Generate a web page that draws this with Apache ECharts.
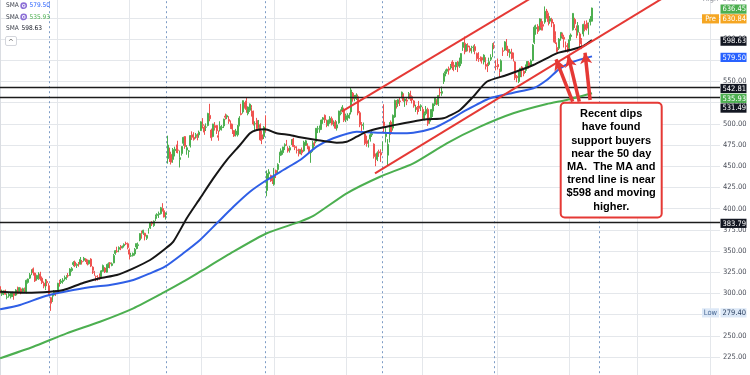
<!DOCTYPE html>
<html><head><meta charset="utf-8">
<script src="https://cdn.jsdelivr.net/npm/echarts@6.0.0/dist/echarts.min.js"></script>
<style>html,body{margin:0;padding:0;background:#fff}#c{width:750px;height:375px}</style>
</head><body><div id="c"></div><script>
// ---- DATA ----
// daily candles [open, close, low, high], one per trading day from 2023-09-15
const candles = [
[308.0,300.3,298.9,308.8],[299.0,302.6,297.0,304.5],[301.0,302.5,298.0,303.5],[303.0,299.1,298.5,304.5],[295.5,295.7,293.0,299.9],[297.0,299.1,295.0,301.2],[296.0,300.8,294.0,301.5],[298.5,299.0,295.8,302.0],[300.0,297.7,292.5,301.0],[298.0,304.0,297.0,305.0],[306.5,300.2,299.0,308.0],
[302.7,306.8,301.5,307.6],[305.3,300.9,299.0,307.0],[302.3,305.6,301.0,306.7],[305.9,304.8,301.5,306.9],[301.0,315.4,300.0,316.3],[313.0,317.0,311.5,317.5],[318.0,321.8,317.0,324.0],[324.0,327.7,321.5,328.5],[329.0,324.2,321.0,330.5],[324.0,314.7,313.5,324.5],[317.0,321.2,315.0,322.0],[318.0,324.0,316.0,325.0],[323.0,317.0,315.0,325.5],[318.0,312.8,311.0,320.0],[312.0,308.6,306.0,314.0],[306.0,314.0,304.0,317.0],[314.0,312.6,308.5,316.5],[309.0,299.5,298.0,312.0],[295.0,288.4,279.4,296.0],[292.0,296.7,290.0,299.5],[298.0,302.7,296.5,304.0],[302.5,301.3,297.0,303.5],
[301.8,311.9,301.0,312.5],[314.0,310.9,308.0,316.0],[313.0,314.6,311.0,317.0],[314.0,315.8,311.5,318.0],[317.0,318.8,315.0,321.0],[318.0,319.8,316.0,321.5],[321.0,320.6,318.5,324.0],[321.0,328.8,320.5,329.8],[327.0,329.2,325.5,331.0],[334.0,336.3,332.0,338.0],[337.0,332.7,331.0,338.7],[333.0,334.2,330.0,335.5],[335.5,335.0,331.5,337.0],[334.5,340.0,334.0,342.9],[337.5,337.0,334.0,339.5],[339.0,341.5,337.5,343.0],[340.5,338.2,337.0,341.5],[338.0,334.7,333.0,340.0],[335.0,339.0,334.0,339.5],[340.5,332.2,331.0,341.5],[331.0,327.2,323.0,332.0],
[325.5,324.8,320.8,326.5],[320.0,320.0,314.5,321.0],[318.5,318.3,315.0,321.5],[321.0,317.5,316.0,323.5],[320.0,326.6,319.5,327.5],[326.0,332.8,325.5,334.0],[330.0,325.3,324.0,331.0],[325.0,334.2,324.5,334.5],[334.5,334.8,330.0,336.5],[336.0,334.9,329.5,337.0],[333.0,334.9,332.0,336.5],[336.0,344.6,335.5,346.5],[347.0,350.4,345.5,351.0],[350.0,349.3,348.0,355.0],[352.0,354.1,348.5,355.5],[355.5,353.4,351.0,357.0],[354.0,354.8,353.0,356.5],[356.0,357.8,354.0,359.0],[359.0,358.3,357.0,361.0],[358.5,354.0,352.0,360.0],
[351.3,346.3,340.0,353.0],[344.0,344.5,343.0,347.9],[344.5,347.1,343.5,348.2],[346.5,352.0,344.5,353.5],[354.7,358.7,352.0,358.9],[356.4,357.4,352.5,360.0],[363.0,370.5,361.5,371.0],[372.0,369.7,364.5,374.0],[371.0,374.5,369.0,375.0],[371.0,367.5,362.5,371.5],[365.0,368.4,363.0,369.0],[373.0,376.1,370.5,377.0],[377.0,383.5,376.0,384.3],[384.0,381.8,379.5,385.2],[380.0,385.2,378.5,386.0],[387.0,390.7,385.5,393.0],[392.0,393.2,388.0,394.5],[393.0,394.1,389.0,396.5],[394.0,401.0,393.0,402.0],[401.0,400.1,396.5,406.4],[397.5,390.1,389.5,400.5],
[393.0,394.8,387.0,395.5],[459.0,475.0,453.0,486.0],[469.0,459.4,455.0,471.9],[464.0,454.7,452.0,467.1],[458.0,469.6,454.0,471.5],[468.3,470.0,461.5,473.0],[472.0,468.1,465.6,475.5],[469.0,468.9,465.0,480.0],[458.0,460.1,448.5,468.5],[465.0,473.3,462.5,473.5],[477.0,484.0,474.0,484.7],[485.0,473.3,470.5,485.6],[469.0,471.8,463.5,474.8],[467.5,468.0,460.0,469.0],[474.0,486.1,472.0,486.8],[487.0,484.0,481.0,491.1],[484.0,481.7,480.2,490.0],[486.0,487.1,482.5,489.2],[485.0,484.0,480.5,488.6],[487.0,490.1,483.5,492.0],
[492.0,502.3,491.5,503.0],[499.0,498.2,494.5,506.7],[496.0,490.2,487.0,498.0],[496.0,496.1,491.5,500.5],[498.0,512.2,497.0,513.0],[509.9,506.0,503.0,523.6],[492.6,483.6,480.0,494.4],[485.0,499.8,484.0,500.0],[497.8,495.6,492.0,502.0],[498.0,491.8,488.0,498.5],[486.0,484.1,480.0,492.0],[493.0,497.0,491.0,503.0],[495.5,496.2,492.0,498.5],[497.5,505.5,495.0,506.0],[509.0,507.8,505.0,512.0],[508.0,509.6,505.5,511.0],[505.0,503.0,500.0,509.0],[500.0,495.9,494.0,504.0],[499.0,493.9,488.0,500.0],[492.0,485.6,484.5,492.5],
[487.0,491.4,485.0,494.0],[487.0,497.4,485.0,498.5],[498.0,506.7,497.0,509.0],[512.0,510.9,510.0,523.6],[514.0,527.3,512.0,527.5],[523.0,519.3,518.0,525.5],[527.0,516.9,513.0,531.5],[512.0,519.8,510.0,520.5],[516.0,523.2,514.0,524.0],[519.0,511.9,508.5,522.0],[515.0,499.8,498.0,515.5],[500.0,500.2,492.5,503.0],[504.0,494.2,492.0,507.0],[496.0,501.8,494.0,504.5],[499.0,481.1,480.0,500.5],[487.0,481.7,476.0,492.0],[485.0,496.1,482.0,497.5],[508.0,493.5,490.0,510.0],[421.4,441.4,414.5,445.0],[441.0,443.3,434.5,446.5],[439.0,432.6,431.5,440.0],[432.0,430.2,429.0,438.0],
[428.6,439.2,427.0,448.0],[445.0,441.7,436.0,446.0],[446.0,452.0,441.0,453.5],[463.0,465.7,454.0,467.0],[463.0,468.2,462.0,471.0],[466.0,472.6,463.5,473.0],[474.0,475.4,469.0,477.0],[478.0,476.2,474.0,481.0],[471.0,468.0,466.0,473.5],[469.0,471.9,466.0,474.0],[476.0,481.5,475.0,481.7],[482.0,473.2,472.5,483.5],[473.0,471.9,469.0,475.0],[469.0,468.8,465.0,473.5],[470.0,464.6,461.5,470.5],[466.0,467.8,464.0,470.0],[469.0,465.8,463.0,472.0],[468.0,478.2,467.0,480.0],[475.0,479.9,474.0,481.0],[475.0,474.4,470.0,477.0],[473.0,467.1,465.0,474.0],[466.0,466.8,454.0,468.0],
[471.0,477.5,467.0,480.0],[477.0,476.2,473.5,479.5],[479.0,494.7,477.0,495.0],[494.0,494.1,489.0,497.5],[493.0,494.3,489.5,498.0],[494.0,504.4,493.0,505.0],[505.0,507.0,500.0,508.0],[510.0,504.6,501.0,511.0],[502.0,498.9,496.0,505.0],[498.0,504.2,497.0,505.0],[501.0,506.6,500.0,509.0],[506.0,499.5,498.0,508.5],[499.0,501.7,497.0,504.0],[502.0,494.8,494.0,504.5],[495.0,498.7,492.0,503.0],[501.0,515.0,500.0,515.5],[512.0,513.1,510.0,517.0],[515.0,519.6,514.0,522.0],[516.0,504.2,502.0,519.0],
[505.0,509.5,502.0,512.0],[507.0,510.0,503.5,512.5],[509.0,510.0,506.0,513.0],[514.0,539.9,511.0,542.8],[536.0,529.3,526.0,537.5],[530.0,531.2,526.5,534.0],[530.0,533.8,528.0,536.0],[532.0,512.7,510.0,534.5],[513.0,498.9,496.0,515.0],[500.0,496.2,491.0,502.0],[498.0,499.0,493.0,501.5],[488.0,476.8,475.0,489.5],[480.0,476.8,473.0,486.0],[476.0,476.8,472.0,481.5],[482.0,487.0,479.0,489.0],[487.0,488.4,484.5,492.0],[476.0,461.3,459.0,477.0],[461.0,453.4,450.0,465.0],[458.0,465.7,456.0,467.5],[467.0,465.7,461.0,469.5],[466.0,463.2,455.0,470.0],[473.0,474.8,468.0,479.0],
[502.0,497.7,489.0,523.0],[485.0,488.1,478.0,495.0],[463.0,475.7,450.8,482.0],[480.0,494.1,478.0,502.0],[502.0,488.9,487.0,504.0],[495.0,510.0,492.0,511.0],[508.0,527.4,507.0,528.5],[526.0,521.7,518.0,528.0],[524.0,528.3,520.0,529.0],[527.0,526.1,521.0,530.5],[533.0,537.3,530.0,538.0],[534.0,527.4,526.0,536.0],[527.0,529.3,520.0,530.0],[528.0,526.7,522.0,530.5],[530.0,535.5,529.0,537.5],[535.0,529.3,527.0,539.0],[532.0,528.0,524.0,533.5],[527.0,521.1,519.0,528.0],[519.0,519.1,514.0,522.5],[519.0,516.8,511.0,521.0],[521.0,518.2,514.0,527.0],[520.0,521.3,515.0,523.0],
[517.0,509.9,505.0,520.0],[506.0,512.2,504.0,514.5],[512.0,517.0,510.0,521.0],[517.0,500.3,497.5,519.0],[503.0,504.8,500.0,507.5],[507.0,516.9,506.0,517.5],[515.0,523.6,508.0,524.0],[523.0,530.6,521.0,531.5],[527.0,524.6,522.0,529.0],[523.0,533.3,521.0,534.0],[537.0,536.3,532.0,542.0],[536.0,538.0,533.0,544.0],[550.0,559.1,547.0,560.0],[560.0,561.4,556.0,564.0],[562.0,564.4,559.0,565.0],[565.0,563.3,558.0,567.5],[566.0,568.3,564.0,570.5],[573.0,567.8,563.5,575.0],[569.0,567.4,562.0,573.0],[567.0,572.4,563.5,573.0],
[573.0,568.6,561.0,574.0],[568.0,572.8,566.0,578.0],[571.0,582.8,568.0,583.5],[590.0,595.9,586.0,596.0],[595.0,584.8,582.0,603.0],[587.0,592.9,585.0,594.0],[592.0,590.5,585.5,595.0],[589.0,586.1,584.0,592.0],[584.0,590.0,583.0,592.0],[590.0,590.4,585.0,592.5],[591.0,586.3,582.0,594.0],[583.0,576.8,574.0,584.0],[580.0,576.9,573.0,584.5],[577.0,576.5,573.5,579.5],[578.0,575.2,571.0,579.0],[573.0,581.0,570.0,582.0],[578.0,567.8,564.0,578.5],[570.0,567.8,561.0,572.0],[570.0,573.3,568.0,578.0],[576.0,578.2,574.0,582.0],[579.0,593.3,578.5,595.0],[592.0,591.8,588.0,596.0],[568.0,567.6,563.0,575.0],
[570.0,567.2,564.0,577.0],[563.0,560.5,555.0,565.0],[562.0,574.3,561.0,576.0],[586.0,585.5,580.0,590.0],[587.0,596.6,586.0,597.5],[596.0,589.3,586.0,600.0],[588.0,584.2,580.0,592.0],[583.0,584.8,578.0,588.0],[584.0,580.0,576.0,588.5],[580.0,577.2,573.5,584.0],[573.0,554.1,551.5,574.0],[556.0,554.4,549.0,557.5],[550.0,561.1,548.0,562.0],[562.0,565.5,555.0,566.0],[567.0,563.1,555.0,568.0],[562.0,559.1,556.0,563.5],[563.0,565.1,560.0,570.0],[566.0,573.5,565.0,574.0],[572.0,569.0,565.0,574.0],[569.0,574.3,568.0,576.0],
[575.0,592.8,574.0,594.0],[596.0,613.9,594.0,616.0],[612.0,613.6,605.0,617.0],[615.0,608.9,606.0,617.5],[611.0,623.8,610.0,624.5],[620.0,613.6,610.0,624.0],[617.0,615.1,610.0,621.0],[620.0,632.7,618.0,638.4],[633.0,630.8,624.0,635.5],[630.0,620.4,616.0,631.0],[621.0,624.2,618.0,627.0],[623.0,618.8,614.0,625.0],[617.0,597.2,596.0,620.0],[604.0,595.6,594.0,609.0],[590.0,585.3,584.0,596.0],[589.0,599.9,587.0,601.0],[601.0,607.8,598.0,608.0],[606.0,603.4,600.0,607.5],[602.0,599.8,590.0,605.0],[592.0,591.2,584.5,597.0],[594.0,585.5,584.0,595.0],
[590.0,599.2,586.0,604.5],[603.0,604.6,598.0,606.5],[611.0,630.2,610.0,630.5],[623.0,617.9,613.0,625.0],[612.0,610.7,601.0,616.0],[608.0,615.9,604.0,620.0],[606.0,594.3,589.5,608.0],[598.0,594.0,588.0,601.0],[606.0,617.1,603.0,618.0],[617.0,611.3,609.0,621.5],[619.0,612.8,610.0,622.0],[612.0,617.1,605.0,619.5],[620.0,623.5,616.0,627.0],[621.0,636.45,620.5,637.0]
];
// moving averages: [trading-day index, value]
const sma50 = [[0,302.0],[15.2,300.8],[28.6,302.0],[36.2,304.0],[47.8,312.6],[57.2,317.8],[66.8,321.7],[76.3,329.6],[85.9,339.4],[94.4,352.4],[99.2,361.0],[106.9,388.6],[114.5,412.1],[122.1,435.7],[129.8,457.3],[137.4,475.0],[143.1,488.8],[147.0,492.7],[151.7,493.5],[158.4,488.8],[166.0,486.8],[171.8,484.1],[181.3,480.9],[192.8,477.7],[198.5,478.9],[204.2,484.8],[210.0,490.7],[217.6,495.0],[229.0,499.8],[244.3,505.3],[253.8,506.5],[263.4,516.3],[271.0,532.0],[278.7,549.6],[290.2,557.5],[305.4,569.3],[318.8,583.1],[326.4,587.0],[334.0,591.7],[339,598.63]];
const sma100 = [[0,281.2],[11.4,286.3],[24.7,296.1],[32.4,300.1],[41.9,304.0],[53.4,307.9],[62.9,309.9],[76.3,315.8],[85.9,323.7],[94.4,331.5],[104.9,347.3],[114.5,363.0],[124.1,382.7],[133.6,402.2],[143.1,419.9],[152.7,433.7],[162.2,445.5],[171.8,457.3],[181.3,473.0],[190.8,482.9],[204.2,490.7],[217.6,489.5],[227.1,488.8],[236.7,489.5],[248.1,494.7],[255.8,502.5],[267.2,516.3],[280.6,530.1],[294.0,536.7],[305.4,541.9],[313.1,551.7],[320.7,565.4],[328.3,573.2],[339,579.50]];
const sma200 = [[0,223.5],[19.0,237.1],[38.1,252.9],[57.2,266.6],[76.3,282.4],[93.5,300.8],[104.9,313.8],[114.5,325.6],[133.6,349.2],[152.7,370.9],[171.8,384.6],[179.4,391.3],[198.5,418.0],[217.6,437.6],[236.7,453.4],[255.8,477.0],[274.9,496.6],[293.9,512.4],[313.1,523.3],[324.5,528.1],[339,535.93]];
const levelLines = [542.81, 531.49, 383.79];
const monthGridIdx = [33, 74, 115, 157, 198, 242, 285, 326, 365, 407];
const earningsIdx = [28, 95, 152, 219, 283, 343];
const upperTrend = [[195.6, 514.3], [305.5, 650]];
const lowerTrend = [[214.7, 441.6], [381.0, 650]];
const dipArrows = [
  [[327.9, 526.1], [318.4, 576.1]],
  [[331.7, 526.1], [325.4, 580.0]],
  [[337.9, 528.1], [335.0, 583.8]]
];
const priceTags = [
  {text:'638.40', value:638.40, side:'High'},
  {text:'636.45', value:636.45},
  {text:'630.84', value:630.84, side:'Pre'},
  {text:'598.63', value:598.63},
  {text:'579.50', value:579.50},
  {text:'542.81', value:542.81},
  {text:'535.93', value:535.93},
  {text:'531.49', value:531.49},
  {text:'383.79', value:383.79},
  {text:'279.40', value:279.40, side:'Low'}
];
const legendRows = [
  {name:'SMA', value:'579.50', gear:true},
  {name:'SMA', value:'535.93', gear:true},
  {name:'SMA', value:'598.63', gear:false}
];
const noteLines = ['Recent dips','have found','support buyers','near the 50 day','MA.  The MA and','trend line is near','$598 and moving','higher.'];

// ---- STYLE / LAYOUT ----
const C = {up:'#4caf50', down:'#ef5350', ma50:'#161616', ma100:'#2f5fe6', ma200:'#4caf50', red:'#e53935', grid:'#e4e7eb', dash:'#7d9cc6', dark:'#131722'};
const tagStyle = [
  {bg:null, fg:'#8a8d96', sideFg:'#8a8d96', shift:-7.5},
  {bg:'#4caf50', fg:'#fff', shift:1},
  {bg:'#f5a623', fg:'#fff', sideBg:'#f5a623', sideFg:'#fff', shift:6},
  {bg:C.dark, fg:'#fff', shift:1},
  {bg:'#2962ff', fg:'#fff', shift:1},
  {bg:C.dark, fg:'#fff', shift:1},
  {bg:'#4caf50', fg:'#fff', shift:5},
  {bg:C.dark, fg:'#fff', shift:11},
  {bg:C.dark, fg:'#fff', shift:1},
  {bg:'#dce8f7', fg:'#2a3f5f', sideBg:'#dce8f7', sideFg:'#4a6a96', shift:2}
];
const legendColors = ['#2962ff', '#4caf50', '#131722'];
const NARROW = '"Liberation Sans Narrow","DejaVu Sans Condensed","Liberation Sans",sans-serif';

const chart = echarts.init(document.getElementById('c'), null, {renderer:'canvas'});
const option = {
  animation: false,
  backgroundColor: '#ffffff',
  grid: {left: 0, right: 30, top: -3.4, bottom: -3.2, containLabel: false, outerBoundsMode: 'none'},
  xAxis: {type: 'value', min: -0.06, max: 412.3, show: false, splitLine: {show: false}},
  yAxis: {
    type: 'value', position: 'right', min: 200, max: 650, interval: 25, scale: true,
    axisLine: {show: true, lineStyle: {color: '#dadde2'}}, axisTick: {show: false},
    axisLabel: {margin: 3, fontSize: 7.5, color: '#4a4e59', fontFamily: NARROW, showMinLabel: false, showMaxLabel: false, formatter: v => v.toFixed(2)},
    splitLine: {lineStyle: {color: C.grid, width: 1}}
  },
  series: [
    {type: 'line', data: [], silent: true,
     markLine: {silent: true, symbol: 'none', z: 1, animation: false, label: {show: false},
       lineStyle: {color: C.grid, width: 1, type: 'solid'}, data: monthGridIdx.map(i => ({xAxis: i}))}},
    {type: 'line', data: [], silent: true,
     markLine: {silent: true, symbol: 'none', z: 1, animation: false, label: {show: false},
       lineStyle: {color: C.dash, width: 1, type: [2, 3]}, data: earningsIdx.map(i => ({xAxis: i}))}},
    {type: 'candlestick', name: 'price', barWidth: 1.4, z: 2,
     data: candles.map((d, i) => [i, d[0], d[1], d[2], d[3]]),
     itemStyle: {color: C.up, color0: C.down, borderColor: C.up, borderColor0: C.down, borderWidth: 1},
     markLine: {silent: true, symbol: 'none', z: 3, animation: false, label: {show: false},
       lineStyle: {color: '#1c1c1c', width: 1.3, type: 'solid'}, data: levelLines.map(v => ({yAxis: v}))}},
    {type: 'line', name: 'SMA200', data: sma200, showSymbol: false, smooth: 0.2, z: 3, lineStyle: {color: C.ma200, width: 2}},
    {type: 'line', name: 'SMA100', data: sma100, showSymbol: false, smooth: 0.2, z: 3, lineStyle: {color: C.ma100, width: 2}},
    {type: 'line', name: 'SMA50', data: sma50, showSymbol: false, smooth: 0.2, z: 3, lineStyle: {color: C.ma50, width: 2}},
    {type: 'line', data: upperTrend, showSymbol: false, z: 4, lineStyle: {color: C.red, width: 2}},
    {type: 'line', data: lowerTrend, showSymbol: false, z: 4, lineStyle: {color: C.red, width: 2}},
    {type: 'line', data: [], silent: true,
     markLine: {silent: true, symbol: ['none', 'arrow'], symbolSize: [9, 11], z: 6, animation: false, label: {show: false},
       lineStyle: {color: C.red, width: 3.5, type: 'solid', opacity: 1},
       data: dipArrows.map(a => [{coord: a[0]}, {coord: a[1]}])}}
  ]
};
chart.setOption(option);

// ---- overlay: price-scale tags, legend, note ----
const g = [];
priceTags.forEach((t, k) => {
  const st = tagStyle[k];
  const y = chart.convertToPixel({yAxisIndex: 0}, t.value) + st.shift;
  if (st.bg) g.push({type: 'rect', z: 100, shape: {x: 720.5, y: y - 4.6, width: 26, height: 9.2}, style: {fill: st.bg}});
  g.push({type: 'text', z: 101, style: {text: t.text, x: 722.5, y: y + 0.3, fill: st.fg, font: '7.5px ' + NARROW, verticalAlign: 'middle', align: 'left'}});
  if (t.side) {
    if (st.sideBg) g.push({type: 'rect', z: 100, shape: {x: 702, y: y - 4.6, width: 17, height: 9.2}, style: {fill: st.sideBg}});
    g.push({type: 'text', z: 101, style: {text: t.side, x: 710.5, y: y + 0.3, fill: st.sideFg, font: '7.5px ' + NARROW, verticalAlign: 'middle', align: 'center'}});
  }
});
legendRows.forEach((r, k) => {
  const y = 5.7 + k * 11.2;
  g.push({type: 'text', z: 101, style: {text: r.name, x: 6, y: y, fill: '#3b3f4a', font: '6.5px ' + NARROW, verticalAlign: 'middle'}});
  if (r.gear) {
    g.push({type: 'circle', z: 100, shape: {cx: 23.7, cy: y, r: 2.6}, style: {fill: 'none', stroke: '#8c6fd6', lineWidth: 1.6}});
    g.push({type: 'circle', z: 100, shape: {cx: 23.7, cy: y, r: 0.9}, style: {fill: '#8c6fd6'}});
  }
  g.push({type: 'text', z: 101, style: {text: r.value, x: r.gear ? 29.5 : 21.5, y: y, fill: legendColors[k], font: '6.5px ' + NARROW, verticalAlign: 'middle'}});
});
g.push({type: 'rect', z: 100, shape: {x: 5.5, y: 36.5, width: 11, height: 9, r: 1.5}, style: {fill: '#fff', stroke: '#c9ccd3', lineWidth: 0.8}});
g.push({type: 'text', z: 101, style: {text: '^', x: 11, y: 42, fill: '#555', font: '7px "DejaVu Sans"', align: 'center', verticalAlign: 'middle'}});
g.push({type: 'rect', z: 100, shape: {x: 560.7, y: 102.8, width: 101, height: 114.7, r: 4}, style: {fill: '#ffffff', stroke: C.red, lineWidth: 2}});
g.push({type: 'text', z: 101, style: {text: noteLines.join('\n'), x: 611.2, y: 160.3, align: 'center', verticalAlign: 'middle', fill: '#000', font: 'bold 11px "Liberation Sans", Arial, sans-serif', lineHeight: 13.2}});
chart.setOption({graphic: g});
</script></body></html>
